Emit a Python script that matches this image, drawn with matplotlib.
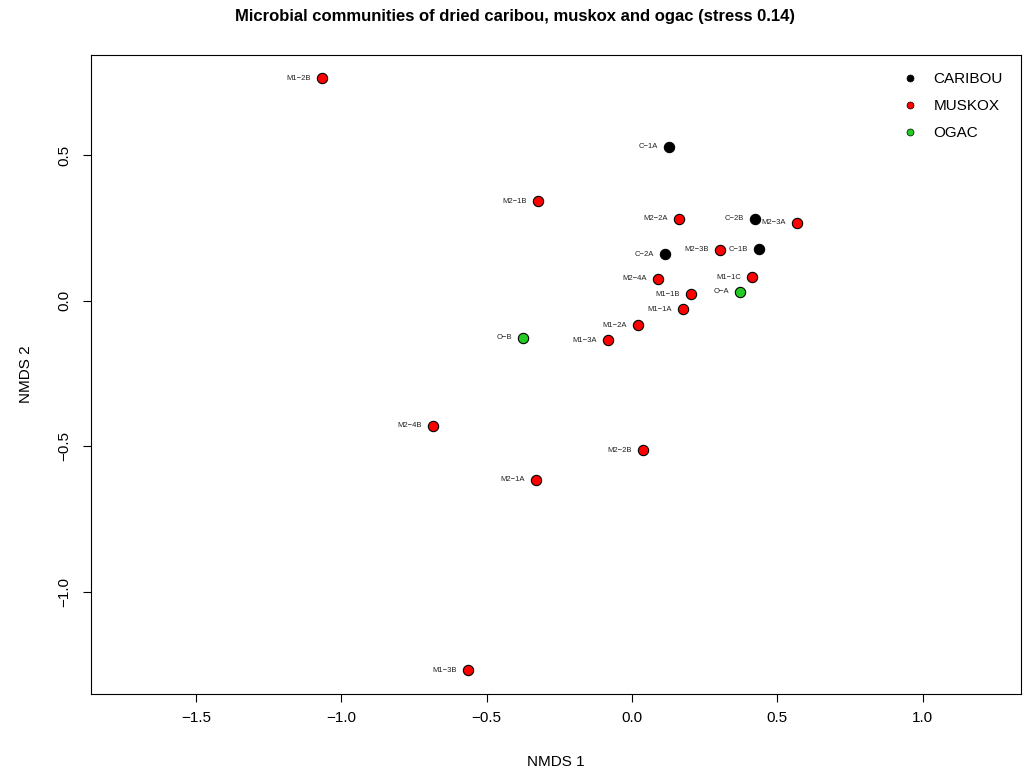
import matplotlib
matplotlib.use("Agg")
import matplotlib.pyplot as plt

plt.rcParams['font.family'] = ['Liberation Sans', 'DejaVu Sans']

samples = ["M1-2B", "C-1A", "M2-1B", "M2-2A", "C-2B", "M2-3A", "C-2A", "M2-3B",
           "C-1B", "M1-1C", "M2-4A", "M1-1B", "O-A", "M1-1A", "M1-2A", "M1-3A",
           "O-B", "M2-4B", "M2-2B", "M2-1A", "M1-3B"]
nmds1 = [-1.068, 0.127, -0.325, 0.163, 0.424, 0.568, 0.115, 0.302,
         0.436, 0.414, 0.088, 0.202, 0.372, 0.174, 0.020, -0.082,
         -0.375, -0.686, 0.038, -0.330, -0.565]
nmds2 = [0.765, 0.529, 0.342, 0.283, 0.283, 0.268, 0.161, 0.176,
         0.177, 0.082, 0.076, 0.023, 0.031, -0.029, -0.083, -0.135,
         -0.127, -0.429, -0.513, -0.614, -1.269]
groups = ["MUSKOX", "CARIBOU", "MUSKOX", "MUSKOX", "CARIBOU", "MUSKOX", "CARIBOU", "MUSKOX",
          "CARIBOU", "MUSKOX", "MUSKOX", "MUSKOX", "OGAC", "MUSKOX", "MUSKOX", "MUSKOX",
          "OGAC", "MUSKOX", "MUSKOX", "MUSKOX", "MUSKOX"]
group_names = ["CARIBOU", "MUSKOX", "OGAC"]
group_colors = {"CARIBOU": "#000000", "MUSKOX": "#FF0000", "OGAC": "#22CC22"}

fig = plt.figure(figsize=(10.30, 7.69), dpi=100)
ax = fig.add_axes([0.0883, 0.0975, 0.9030, 0.8310])

for x, y, g, s in zip(nmds1, nmds2, groups, samples):
    ax.scatter(x, y, s=55, c=group_colors[g], edgecolors="black", linewidths=0.8, zorder=3)
    ax.annotate(s.replace("-", "\u2212"), (x, y), xytext=(-8, 0), textcoords="offset points",
                ha="right", va="center", fontsize=5.5, color="#222222")

ax.set_xlim(-1.861, 1.338)
ax.set_ylim(-1.351, 0.845)
ax.set_xticks([-1.5, -1.0, -0.5, 0.0, 0.5, 1.0])
ax.set_yticks([-1.0, -0.5, 0.0, 0.5])
ax.set_xticklabels(["\u22121.5", "\u22121.0", "\u22120.5", "0.0", "0.5", "1.0"])
ax.set_yticklabels(["\u22121.0", "\u22120.5", "0.0", "0.5"], rotation=90, va="center")
ax.tick_params(direction="out", length=6, width=0.8, labelsize=11, pad=6)
ax.tick_params(axis="y", pad=8)
for sp in ax.spines.values():
    sp.set_linewidth(0.8)

ax.set_xlabel("NMDS 1", fontsize=11, labelpad=22)
ax.set_ylabel("NMDS 2", fontsize=11, labelpad=18)
fig.text(0.5, 0.978, "Microbial communities of dried caribou, muskox and ogac (stress 0.14)",
         ha="center", va="center", fontsize=12, fontweight="bold")

handles = [plt.Line2D([], [], marker="o", linestyle="", markersize=5,
                      markerfacecolor=group_colors[g], markeredgecolor="black",
                      markeredgewidth=0.5, label=g) for g in group_names]
ax.legend(handles=handles, loc="upper right", frameon=False, fontsize=11,
          handlelength=1.0, handletextpad=1.0, labelspacing=0.85,
          bbox_to_anchor=(0.995, 0.995))

fig.savefig("out.png", dpi=100)
